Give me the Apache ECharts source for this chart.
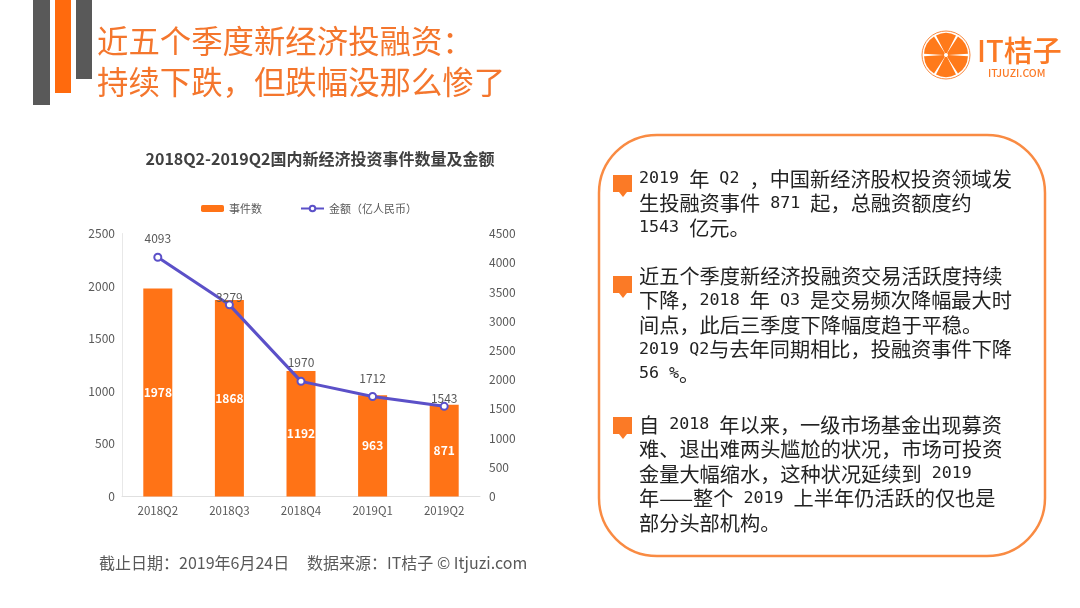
<!DOCTYPE html>
<html>
<head>
<meta charset="utf-8">
<style>html,body{margin:0;padding:0;background:#fff}#main{width:1080px;height:608px}</style>
<script src="https://cdn.jsdelivr.net/npm/echarts@6/dist/echarts.min.js"></script>
</head>
<body>
<div id="main"></div>
<script>
var quarters = ['2018Q2', '2018Q3', '2018Q4', '2019Q1', '2019Q2'];
var eventCounts = [1978, 1868, 1192, 963, 871];
var amounts = [4093, 3279, 1970, 1712, 1543];
var headingLines = ['近五个季度新经济投融资：', '持续下跌，但跌幅没那么惨了'];
var noteLines = [
    ['2019 年 Q2 ，中国新经济股权投资领域发', '生投融资事件 871 起，总融资额度约', '1543 亿元。'],
    ['近五个季度新经济投融资交易活跃度持续', '下降，2018 年 Q3 是交易频次降幅最大时', '间点，此后三季度下降幅度趋于平稳。', '2019 Q2与去年同期相比，投融资事件下降', '56 %。'],
    ['自 2018 年以来，一级市场基金出现募资', '难、退出难两头尴尬的状况，市场可投资', '金量大幅缩水，这种状况延续到 2019', '年——整个 2019 上半年仍活跃的仅也是', '部分头部机构。']
];
var noteTops = [179, 276, 425];
var bulletTops = [175, 276, 417];
var sourceText = '截止日期：2019年6月24日     数据来源：IT桔子 © Itjuzi.com';

var cjk = '"Noto Sans CJK SC"';
var orange = '#FF7316';
var myChart = echarts.init(document.getElementById('main'));

// latin runs are half width in the original, so they get a mono font
function noteRich(line) {
    return line.replace(/[\x20-\x7e]+/g, function (s) {
        return '{m|' + s + '}';
    });
}

// no thousands separator on the ticks
function plainNumber(v) {
    return String(v);
}

var graphics = [
    { type: 'rect', shape: { x: 33, y: 0, width: 17, height: 105 }, style: { fill: '#595959' } },
    { type: 'rect', shape: { x: 55, y: 0, width: 16, height: 93 }, style: { fill: '#FF6A0D' } },
    { type: 'rect', shape: { x: 76, y: 0, width: 16, height: 79 }, style: { fill: '#595959' } },
    { type: 'rect', shape: { x: 599, y: 135, width: 446, height: 421, r: 58 }, style: { fill: '#fff', stroke: '#F98B43', lineWidth: 2.5 } },
    { type: 'text', style: { x: 99, y: 563, text: sourceText, font: '16px ' + cjk, fill: '#595959', textVerticalAlign: 'middle' } }
];

headingLines.forEach(function (line, i) {
    graphics.push({ type: 'text', style: { x: 97, y: 41 + i * 41, text: line, font: '31.4px ' + cjk, fill: '#F4762D', textVerticalAlign: 'middle' } });
});

noteLines.forEach(function (lines, i) {
    var top = noteTops[i];
    var bt = bulletTops[i];
    graphics.push({ type: 'rect', shape: { x: 613, y: bt, width: 19, height: 17 }, style: { fill: '#FB7A26' } });
    graphics.push({ type: 'polygon', shape: { points: [[619, bt + 17], [627, bt + 17], [623, bt + 22]] }, style: { fill: '#FB7A26' } });
    lines.forEach(function (line, j) {
        graphics.push({
            type: 'text',
            style: {
                x: 639,
                y: top + j * 24.5,
                text: noteRich(line),
                font: '20.2px ' + cjk,
                fill: '#222',
                textVerticalAlign: 'middle',
                rich: { m: { font: '16.67px "DejaVu Sans Mono"', fill: '#222' } }
            }
        });
    });
});

// logo
var logoX = 946, logoY = 55, logoR = 22;
graphics.push({ type: 'circle', shape: { cx: logoX, cy: logoY, r: logoR + 2 }, style: { fill: '#fff', stroke: '#F98B43', lineWidth: 1 } });
for (var k = 0; k < 6; k++) {
    var start = (k * 60 - 60 + 3) * Math.PI / 180;
    var end = (k * 60 - 3) * Math.PI / 180;
    graphics.push({ type: 'sector', shape: { cx: logoX, cy: logoY, r0: 2, r: logoR, startAngle: start, endAngle: end }, style: { fill: '#FF7A1A' } });
}
graphics.push({ type: 'text', style: { x: 977, y: 51, text: 'IT桔子', font: '500 29px ' + cjk, fill: '#FB7A26', textVerticalAlign: 'middle' } });
graphics.push({ type: 'text', style: { x: 988, y: 73, text: 'ITJUZI.COM', font: '500 10.5px ' + cjk, fill: '#FB7A26', textVerticalAlign: 'middle' } });

// the 3279 and 1543 labels sit almost on their points in the original
var amountData = amounts.map(function (v, i) {
    if (i === 1 || i === 4) {
        return { value: v, label: { distance: -3 } };
    }
    return v;
});

var option = {
    backgroundColor: '#fff',
    animation: false,
    title: {
        text: '2018Q2-2019Q2国内新经济投资事件数量及金额',
        left: 315,
        top: 146,
        textAlign: 'center',
        textStyle: { fontFamily: cjk, fontSize: 16, fontWeight: 'bold', color: '#404040' }
    },
    legend: {
        top: 198,
        left: 196,
        itemGap: 38,
        itemWidth: 23,
        itemHeight: 7,
        textStyle: { fontFamily: cjk, fontSize: 11, color: '#595959' },
        data: ['事件数', '金额（亿人民币）']
    },
    grid: { left: 122, right: 600, top: 233.5, bottom: 111.5 },
    xAxis: {
        type: 'category',
        data: quarters,
        axisTick: { show: false },
        axisLine: { lineStyle: { color: '#E0E0E0' } },
        axisLabel: { color: '#595959', fontFamily: cjk, fontSize: 11.5, margin: 8 }
    },
    yAxis: [
        {
            type: 'value', min: 0, max: 2500, interval: 500,
            splitLine: { show: false },
            axisTick: { show: false },
            axisLine: { show: true, lineStyle: { color: '#E8E8E8' } },
            axisLabel: { color: '#595959', fontFamily: cjk, fontSize: 12, margin: 7, formatter: plainNumber }
        },
        {
            type: 'value', min: 0, max: 4500, interval: 500,
            splitLine: { show: false },
            axisTick: { show: false },
            axisLine: { show: false },
            axisLabel: { color: '#595959', fontFamily: cjk, fontSize: 12, margin: 9, formatter: plainNumber }
        }
    ],
    series: [
        {
            name: '事件数',
            type: 'bar',
            barWidth: 29,
            itemStyle: { color: orange },
            data: eventCounts,
            label: { show: true, position: 'inside', color: '#fff', fontFamily: cjk, fontSize: 12, fontWeight: 'bold' }
        },
        {
            name: '金额（亿人民币）',
            type: 'line',
            yAxisIndex: 1,
            symbol: 'circle',
            symbolSize: 7,
            showAllSymbol: true,
            lineStyle: { color: '#5B50C8', width: 3 },
            itemStyle: { color: '#fff', borderColor: '#5B50C8', borderWidth: 2 },
            data: amountData,
            label: { show: true, position: 'top', distance: 8, color: '#595959', fontFamily: cjk, fontSize: 12 }
        }
    ],
    graphic: { elements: graphics }
};
myChart.setOption(option);
</script>
</body>
</html>
